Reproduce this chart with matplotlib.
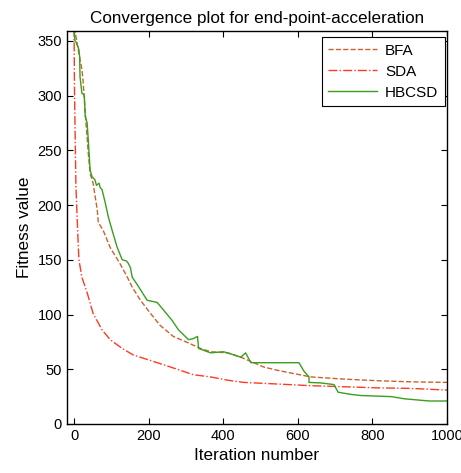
import matplotlib
matplotlib.use("Agg")
import matplotlib.pyplot as plt

plt.rcParams['font.family'] = ['Liberation Sans', 'DejaVu Sans']

# values
bfa_x = [0, 3, 11, 21, 24, 30, 38, 43, 51, 62, 65, 78, 97, 124, 143, 156, 178, 205, 231, 266,
         307, 339, 366, 412, 447, 482, 509, 546, 590, 635, 724, 815, 904, 1000]
bfa_y = [362, 358, 342, 324, 314, 284, 248, 229, 220, 196, 184, 177, 161, 146, 134, 125, 113, 101, 90, 80,
         74, 69, 66, 65, 61, 56, 52, 49, 46, 43, 41, 39.5, 38.5, 38]

sda_x = [0, 1, 3, 5, 11, 13, 21, 35, 51, 75, 97, 129, 159, 205, 250, 320, 366, 412, 455, 546,
         635, 724, 815, 904, 1000]
sda_y = [362, 308, 262, 217, 165, 150, 134, 120, 101, 86, 77, 69, 63, 58, 53, 45, 43, 40, 38, 36.5,
         35, 34, 33, 32.5, 31]

hbcsd_x = [0, 2, 5, 10, 13, 15, 16, 21, 27, 28, 30, 35, 38, 43, 48, 56, 60, 67, 70, 75, 83, 92,
           102, 115, 129, 140, 145, 151, 156, 170, 183, 196, 210, 223, 245, 262, 280, 307, 320,
           331, 334, 350, 366, 401, 430, 447, 460, 474, 501, 603, 617, 630, 630, 662, 697, 708,
           743, 770, 851, 886, 953, 1000]
hbcsd_y = [362, 350, 349, 345, 342, 335, 317, 302, 301, 296, 281, 275, 260, 232, 226, 223, 218, 220, 216,
           214, 203, 189, 177, 162, 150, 149, 147, 143, 134, 127, 120, 113, 112, 111, 102, 95, 86, 77,
           78, 80, 69, 67, 65, 66, 63, 61, 65, 56, 56, 56, 48, 43, 38, 37.5, 36, 29, 27, 26, 25, 23,
           21, 21]

fig = plt.figure(figsize=(4.61, 4.73), dpi=100)
ax = fig.add_axes([0.1453, 0.1036, 0.8243, 0.8309])

ax.plot(bfa_x, bfa_y, '--', color='#c8642a', lw=1.0, label='BFA')
ax.plot(sda_x, sda_y, '-.', color='#ff3a22', lw=1.0, label='SDA')
ax.plot(hbcsd_x, hbcsd_y, '-', color='#3a9e1e', lw=1.0, label='HBCSD')

ax.set_xlim(-19, 1000)
ax.set_ylim(0, 359)
ax.set_xticks([0, 200, 400, 600, 800, 1000])
ax.set_yticks([0, 50, 100, 150, 200, 250, 300, 350])
ax.tick_params(direction='in', top=True, right=True, labelsize=10.5, length=4)
for s in ax.spines.values():
    s.set_linewidth(1.0)

ax.set_title('Convergence plot for end-point-acceleration', fontsize=12.3)
ax.set_xlabel('Iteration number', fontsize=12.3)
ax.set_ylabel('Fitness value', fontsize=12.3)

leg = ax.legend(loc='upper right', bbox_to_anchor=(0.995, 0.985), borderaxespad=0, fancybox=False,
                edgecolor='black', framealpha=1, handlelength=3.2, handletextpad=0.5,
                fontsize=11, labelspacing=0.45, borderpad=0.45)
leg.get_frame().set_linewidth(0.8)

fig.savefig('out.png', dpi=100)
